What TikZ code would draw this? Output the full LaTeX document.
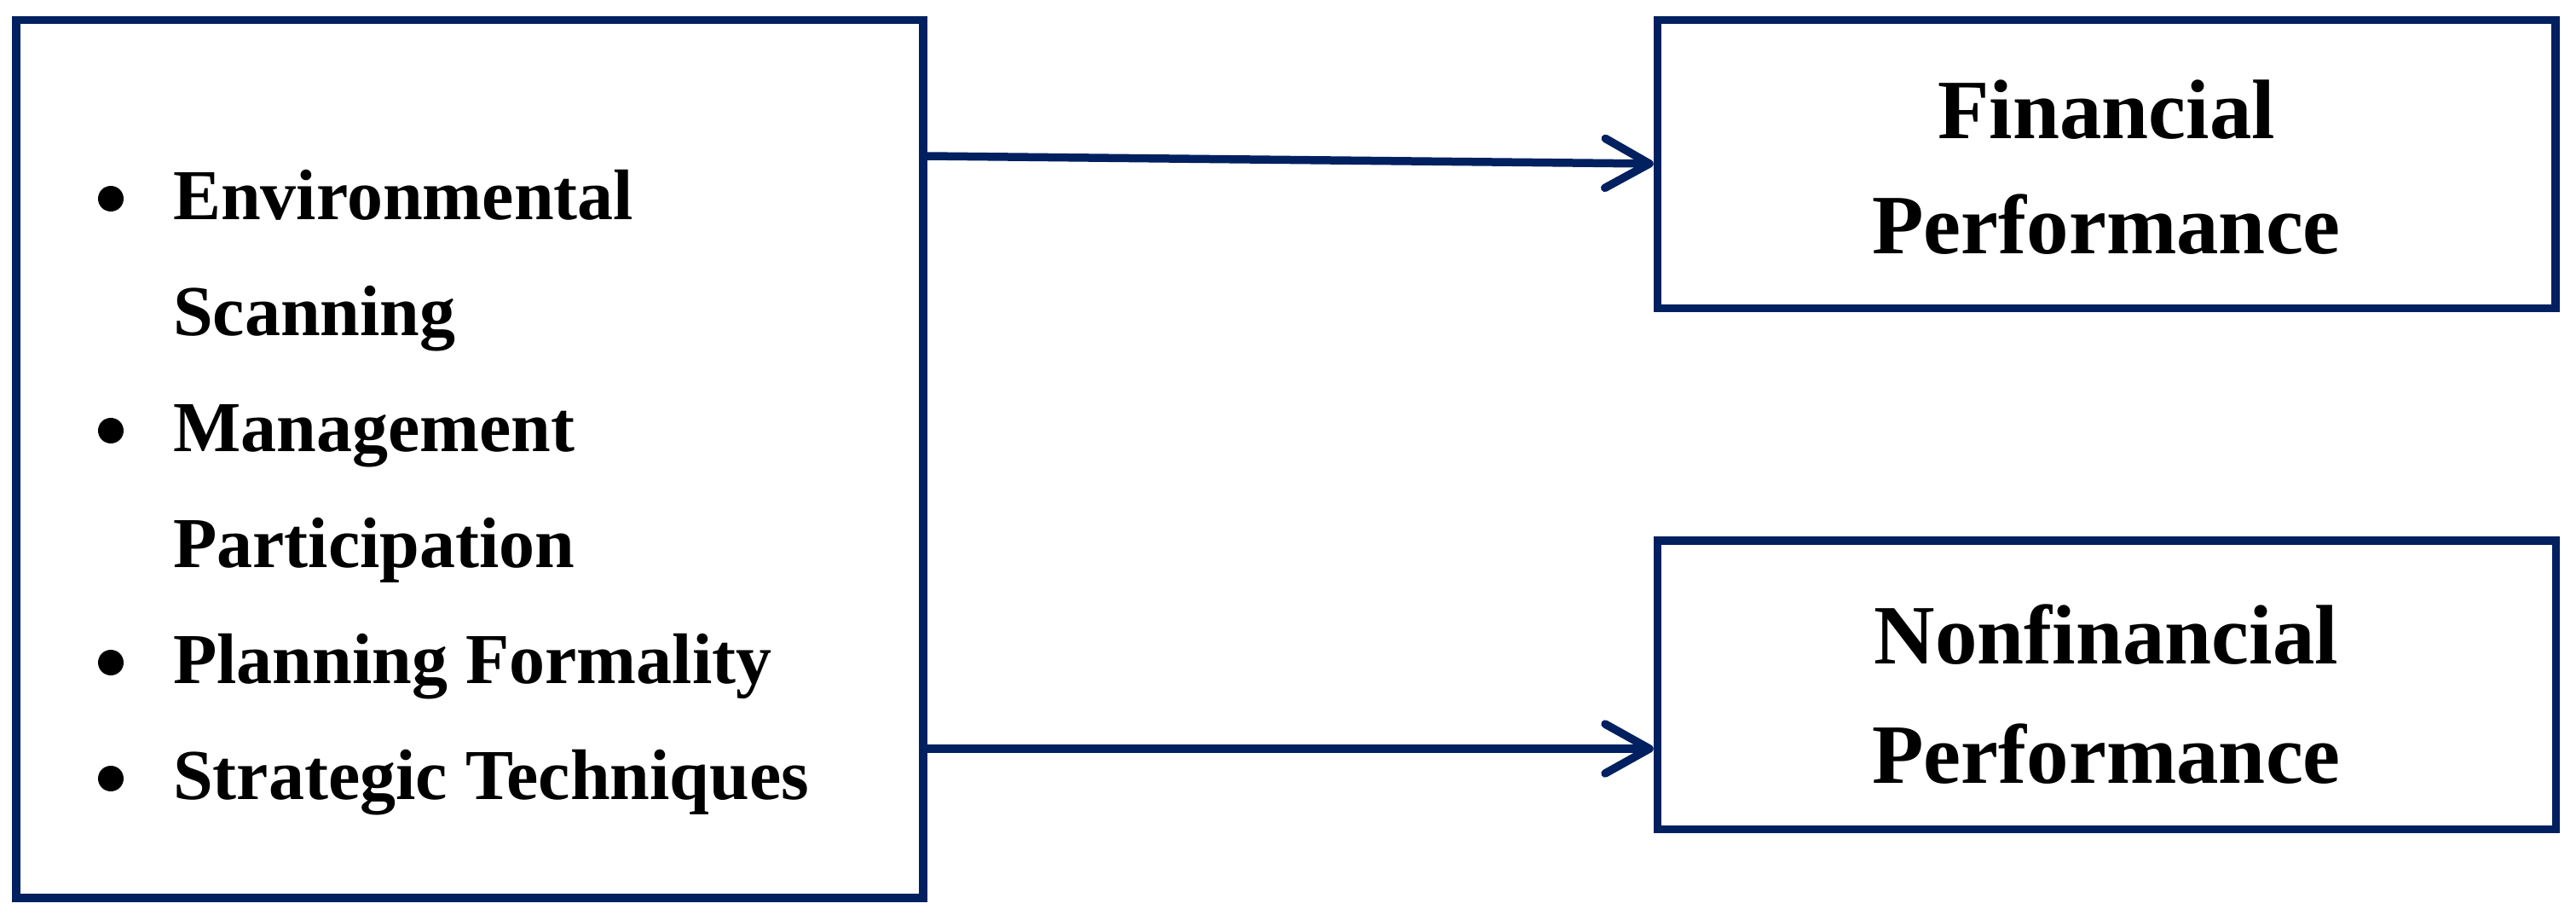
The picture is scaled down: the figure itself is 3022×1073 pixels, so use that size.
\documentclass[tikz,border=0pt]{standalone}
\usepackage{fontspec}
\setmainfont{Liberation Serif}
\usetikzlibrary{arrows.meta}
\definecolor{navy}{HTML}{002060}
\begin{document}
\begin{tikzpicture}[x=1pt,y=-1pt,
  box/.style={draw=navy, line width=9.5pt, inner sep=0pt, fill=white},
  arr/.style={draw=navy, line width=9.5pt, -{Straight Barb[length=52pt,width=58pt,round]}},
  bul/.style={circle, fill=black, inner sep=0pt, minimum size=30pt},
  lt/.style={anchor=base west, inner sep=0pt, font=\fontsize{84pt}{100pt}\selectfont\bfseries},
  rt/.style={anchor=base, inner sep=0pt, font=\fontsize{99pt}{120pt}\selectfont\bfseries}]
\useasboundingbox (0,0) rectangle (3022,1073);
% boxes
\node[box, minimum width=1064pt, minimum height=1029.5pt] (L) at (551,538.25) {};
\node[box, minimum width=1053.5pt, minimum height=338pt] (F) at (2471.25,192.5) {};
\node[box, minimum width=1054pt, minimum height=338.5pt] (N) at (2471.5,803.25) {};
% left list
\node[bul] (b1) at (130,233) {};
\node[lt] (t1) at (203,257) {Environmental};
\node[lt] (t2) at (203,393) {Scanning};
\node[bul] (b2) at (130,505) {};
\node[lt] (t3) at (203,529) {Management};
\node[lt] (t4) at (203,665) {Participation};
\node[bul] (b3) at (130,777) {};
\node[lt] (t5) at (203,801) {Planning Formality};
\node[bul] (b4) at (130,913) {};
\node[lt] (t6) at (203,937) {Strategic Techniques};
% right texts
\node[rt] (f1) at (2471,162) {Financial};
\node[rt] (f2) at (2471,297) {Performance};
\node[rt] (n1) at (2471,778) {Nonfinancial};
\node[rt] (n2) at (2471,918) {Performance};
% arrows
\draw[arr] (L.east |- 0,183) -- (F.west |- 0,192);
\draw[arr] (L.east |- 0,878) -- (N.west |- 0,878);
\end{tikzpicture}
\end{document}
